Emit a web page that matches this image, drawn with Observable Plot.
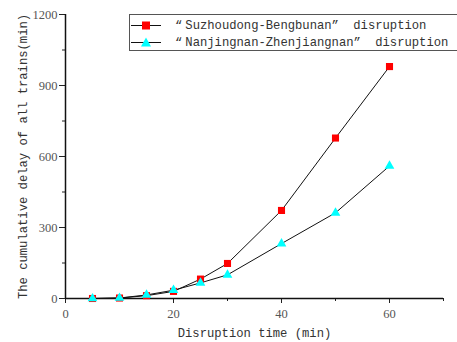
<!DOCTYPE html>
<html><head><meta charset="utf-8">
<script src="https://cdn.jsdelivr.net/npm/d3@7"></script>
<script src="https://cdn.jsdelivr.net/npm/@observablehq/plot@0.6"></script>
<style>
body{margin:0;background:#fff;}
#wrap{position:relative;width:457px;height:342px;}
#legend{position:absolute;left:129px;top:14px;width:330px;height:35px;border:1.5px solid #555;background:#fff;font-family:"Liberation Mono",monospace;font-size:12.2px;color:#333;}
.row{position:absolute;left:0;height:17px;display:flex;align-items:center;white-space:pre;}
.row svg{margin-right:12px;}
.oq{padding-left:1px;padding-right:3px;}
.cq{padding-right:7px;}
</style></head>
<body><div id="wrap"><div id="legend"></div></div>
<script>
const times = [5, 10, 15, 20, 25, 30, 40, 50, 60];
const suzhoudong = [0, 2, 12, 30, 82, 148, 372, 678, 980];
const nanjingnan = [0, 2, 15, 35, 66, 100, 232, 362, 560];
const seriesNames = ["“Suzhoudong-Bengbunan” disruption", "“Nanjingnan-Zhenjiangnan” disruption"];
const xTicks = [0, 20, 40, 60];
const xMinor = [10, 30, 50, 70];
const yTicks = [0, 300, 600, 900, 1200];
const yMinor = [150, 450, 750, 1050];

const dataA = times.map((t, i) => ({t, v: suzhoudong[i]}));
const dataB = times.map((t, i) => ({t, v: nanjingnan[i]}));

const chart = Plot.plot({
  width: 457, height: 342,
  marginLeft: 65, marginRight: 14, marginTop: 14, marginBottom: 44,
  style: {fontFamily: "Liberation Serif, serif", fontSize: "12.5px", color: "#555", background: "#fff"},
  x: {domain: [0, 70]},
  y: {domain: [0, 1200]},
  marks: [
    Plot.axisX({ticks: xTicks, tickSize: 5, tickPadding: 6, tickFormat: d => String(d), label: null, stroke: "#222"}),
    Plot.axisX({ticks: xMinor, tickSize: 3, text: null, label: null, stroke: "#222"}),
    Plot.axisY({ticks: yTicks, tickSize: 6, tickPadding: 2, tickFormat: d => String(d), label: null, stroke: "#222"}),
    Plot.axisY({ticks: yMinor, tickSize: 3, text: null, label: null, stroke: "#222"}),
    Plot.ruleY([0], {stroke: "#111", strokeWidth: 1.5}),
    Plot.ruleX([0], {stroke: "#111", strokeWidth: 1.5}),
    Plot.text(["Disruption time (min)"], {frameAnchor: "bottom", dy: 38, fontFamily: "Liberation Mono, monospace", fill: "#333", fontSize: 12.2}),
    Plot.text(["The cumulative delay of all trains(min)"], {frameAnchor: "left", textAnchor: "middle", dx: -42, rotate: -90, fontFamily: "Liberation Mono, monospace", fill: "#333", fontSize: 12.2}),
    Plot.line(dataA, {x: "t", y: "v", stroke: "#111", strokeWidth: 1}),
    Plot.line(dataB, {x: "t", y: "v", stroke: "#111", strokeWidth: 1}),
    Plot.dot(dataA, {x: "t", y: "v", symbol: "square", r: 4, fill: "#ff0000", stroke: "none"}),
    Plot.dot(dataB, {x: "t", y: "v", symbol: "triangle", r: 3.6, fill: "#00ffff", stroke: "none"})
  ]
});
document.getElementById("wrap").insertBefore(chart, document.getElementById("legend"));

const legend = document.getElementById("legend");
const symbols = [
  '<rect x="12" y="4.5" width="8" height="8" fill="#ff0000"/>',
  '<path d="M16,3.5 L21,12.5 L11,12.5 Z" fill="#00ffff"/>'
];
seriesNames.forEach((name, i) => {
  const row = document.createElement("div");
  row.className = "row";
  row.style.top = (i === 0 ? 2 : 19) + "px";
  const html = name.replace("“", '<span class="oq">“</span>').replace("”", '<span class="cq">”</span>');
  row.innerHTML = `<svg width="32" height="17"><line x1="1" x2="31" y1="8.5" y2="8.5" stroke="#111" stroke-width="1"/>${symbols[i]}</svg><span>${html}</span>`;
  legend.appendChild(row);
});
</script></body></html>
